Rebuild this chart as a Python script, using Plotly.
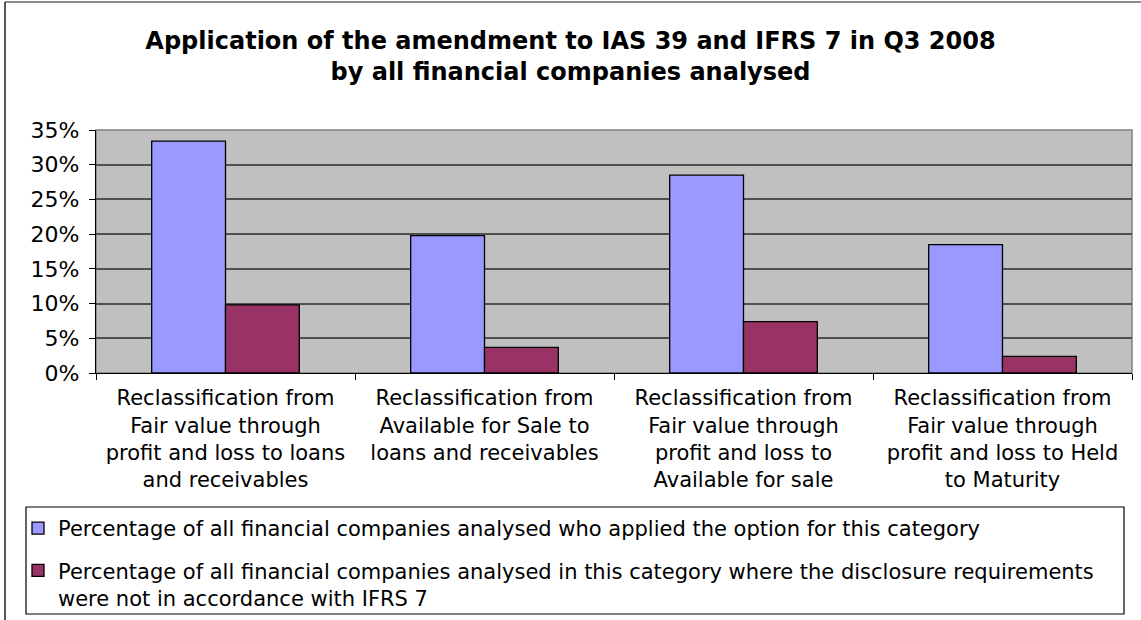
import plotly.graph_objects as go

categories = [
    "Reclassification from<br>Fair value through<br>profit and loss to loans<br>and receivables",
    "Reclassification from<br>Available for Sale to<br>loans and receivables",
    "Reclassification from<br>Fair value through<br>profit and loss to<br>Available for sale",
    "Reclassification from<br>Fair value through<br>profit and loss to Held<br>to Maturity",
]
applied_pct = [33.4, 19.8, 28.5, 18.5]
not_compliant_pct = [9.8, 3.7, 7.4, 2.4]
series_names = [
    "Percentage of all financial companies analysed who applied the option for this category",
    "Percentage of all financial companies analysed in this category where the disclosure requirements<br>were not in accordance with IFRS 7",
]
y_ticks = [0, 0.05, 0.10, 0.15, 0.20, 0.25, 0.30, 0.35]

FONT = "DejaVu Sans"

fig = go.Figure()
fig.add_trace(go.Bar(
    x=categories, y=[v / 100 for v in applied_pct], name=series_names[0],
    marker=dict(color="#9999FF", line=dict(color="#000000", width=1.3)),
    legendgroup="a",
))
fig.add_trace(go.Bar(
    x=categories, y=[v / 100 for v in not_compliant_pct], name=series_names[1],
    marker=dict(color="#993366", line=dict(color="#000000", width=1.3)),
    legendgroup="b",
))

W, H = 1141, 620
PL, PR, PT, PB = 96, 1132, 130, 373
L, T = PL, PT
R = W - PR
B = H - PB
pw, ph = PR - PL, PB - PT

def px_x(px):
    return (px - PL) / pw

def px_y(py):
    return (PB - py) / ph

shapes = [
    dict(type="rect", xref="paper", yref="paper", x0=0, x1=1, y0=0, y1=1,
         line=dict(color="#808080", width=1.5), layer="below"),
    dict(type="line", xref="paper", yref="paper", x0=px_x(5), x1=px_x(1160),
         y0=px_y(2), y1=px_y(2), line=dict(color="#8c8c8c", width=2)),
    dict(type="line", xref="paper", yref="paper", x0=px_x(5), x1=px_x(5),
         y0=px_y(2), y1=px_y(640), line=dict(color="#202020", width=1.5)),
    dict(type="rect", xref="paper", yref="paper", x0=px_x(26), x1=px_x(1124),
         y0=px_y(507), y1=px_y(614), line=dict(color="#000000", width=1.2),
         fillcolor="rgba(0,0,0,0)"),
]

fig.update_layout(
    width=W, height=H,
    margin=dict(l=L, r=R, t=T, b=B, autoexpand=False),
    paper_bgcolor="white",
    plot_bgcolor="#C0C0C0",
    font=dict(family=FONT, color="#000000"),
    title=dict(
        text="<b>Application of the amendment to IAS 39 and IFRS 7 in Q3 2008<br>by all financial companies analysed</b>",
        x=0.5, xanchor="center", y=1 - 49 / H, yanchor="middle",
        font=dict(family=FONT, size=24, color="#000000"),
    ),
    barmode="group",
    bargap=0.43,
    bargroupgap=0,
    showlegend=True,
    legend=dict(
        x=px_x(18), xanchor="left", y=px_y(508), yanchor="top",
        bgcolor="rgba(0,0,0,0)", borderwidth=0,
        font=dict(family=FONT, size=21, color="#000000"),
        tracegroupgap=12, valign="top",
    ),
    shapes=shapes,
    xaxis=dict(
        type="category", tickson="boundaries", ticks="outside", ticklen=6,
        tickcolor="#000000", showline=True, linecolor="#000000", linewidth=1.3,
        showgrid=False, tickfont=dict(family=FONT, size=21, color="#000000"),
        ticklabelstandoff=6,
        fixedrange=True,
    ),
    yaxis=dict(
        range=[0, 0.35], tickvals=y_ticks, tickformat=".0%",
        ticks="outside", ticklen=6, tickcolor="#000000",
        showline=True, linecolor="#000000", linewidth=1.3,
        showgrid=True, gridcolor="#505050", gridwidth=1.5,
        zeroline=False, ticklabelstandoff=5,
        tickfont=dict(family=FONT, size=22, color="#000000"),
        fixedrange=True,
    ),
)

fig.write_html(
    "out.html",
    config={"displayModeBar": False},
    post_script="document.body.style.margin='0';document.body.style.overflow='hidden';",
)
